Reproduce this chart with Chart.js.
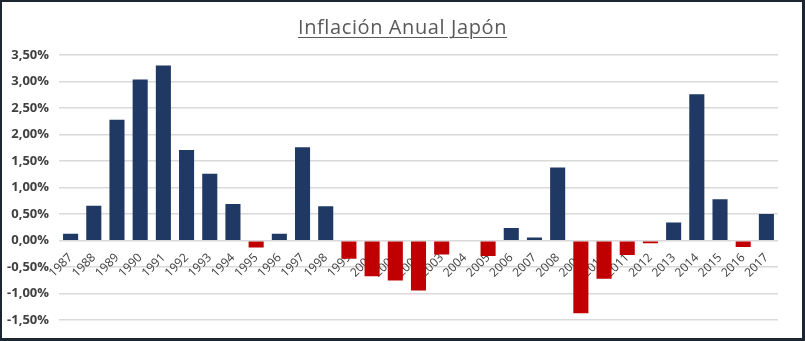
<!DOCTYPE html>
<html>
<head>
<meta charset="utf-8">
<script src="https://cdn.jsdelivr.net/npm/chart.js@4.4.1/dist/chart.umd.min.js"></script>
<style>
  html, body { margin: 0; padding: 0; }
  body { width: 805px; height: 341px; background: #1c2532; position: relative; overflow: hidden; }
  #frame { position: absolute; left: 2px; top: 2px; width: 800px; height: 336px; background: #fff; }
  #title { position: absolute; left: 0; width: 805px; top: 13px; text-align: center;
           font-family: "Open Sans", sans-serif; font-size: 20px; color: #595959; letter-spacing: 0.6px;
           text-decoration: underline; text-underline-offset: 3px; text-decoration-thickness: 1px; }
  canvas { position: absolute; left: 0; top: 0; }
</style>
</head>
<body>
<div id="frame"><canvas id="c" width="800" height="336"></canvas></div>
<div id="title">Inflación Anual Japón</div>
<script>
const titleText = "Inflación Anual Japón";
const years = ["1987","1988","1989","1990","1991","1992","1993","1994","1995","1996","1997","1998","1999","2000","2001","2002","2003","2004","2005","2006","2007","2008","2009","2010","2011","2012","2013","2014","2015","2016","2017"];
const inflation = [0.13,0.66,2.28,3.04,3.30,1.71,1.26,0.69,-0.13,0.13,1.76,0.65,-0.34,-0.67,-0.75,-0.94,-0.26,0.00,-0.29,0.24,0.06,1.38,-1.37,-0.72,-0.27,-0.05,0.34,2.76,0.78,-0.12,0.50];
const yMin = -1.5, yMax = 3.5, yStep = 0.5;

const colors = inflation.map(v => v < 0 ? "#c00000" : "#1f3864");

new Chart(document.getElementById("c"), {
  type: "bar",
  data: {
    labels: years,
    datasets: [{
      data: inflation,
      backgroundColor: colors,
      borderWidth: 0,
      barPercentage: 0.65,
      categoryPercentage: 1.0
    }]
  },
  options: {
    responsive: false,
    animation: false,
    layout: { padding: { top: 53, right: 24, bottom: 14, left: 0 } },
    plugins: { legend: { display: false }, title: { display: false }, tooltip: { enabled: false } },
    scales: {
      x: {
        position: { y: 0 },
        grid: { display: false, drawTicks: false },
        border: { display: false },
        ticks: {
          maxRotation: 45, minRotation: 45, autoSkip: false, padding: 10,
          color: "#404040",
          font: { family: "Open Sans", size: 12 }
        }
      },
      y: {
        min: yMin, max: yMax,
        afterFit: s => { s.width = 57; },
        grid: { color: "#d9d9d9", lineWidth: 1.5, drawTicks: false },
        border: { display: false },
        ticks: {
          stepSize: yStep, padding: 10,
          color: "#404040",
          font: { family: "Open Sans", size: 13, weight: "bold" },
          callback: v => v.toFixed(2).replace(".", ",") + "%"
        }
      }
    }
  }
});
</script>
</body>
</html>
